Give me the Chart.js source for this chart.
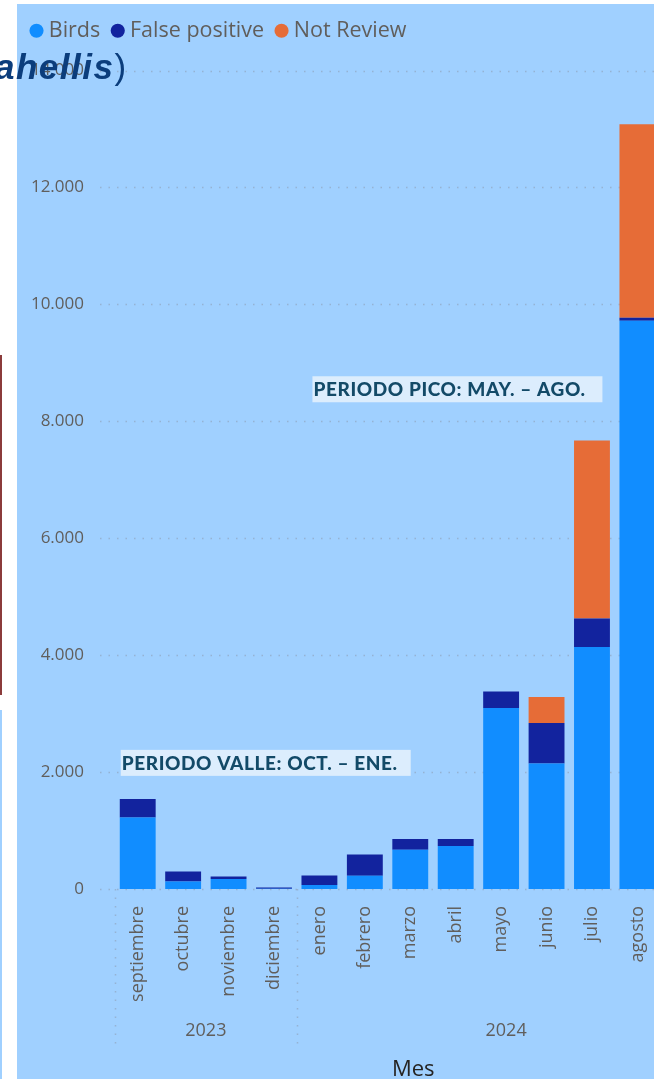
<!DOCTYPE html>
<html lang="es">
<head>
<meta charset="UTF-8">
<title>Detecciones por mes</title>
<script src="https://cdn.jsdelivr.net/npm/chart.js"></script>
<style>
  body { margin: 0; width: 654px; height: 1079px; overflow: hidden; background: #fff; position: relative; }
  #panel { position: absolute; left: 17px; top: 4px; width: 700px; height: 1075px; background: #a0d0ff; }
  #chart { position: absolute; left: 0; top: 0; }
  /* bits of neighbouring visuals that show at the left edge */
  .edge-line { position: absolute; left: 0; top: 355px; width: 2px; height: 340px; background: #8b3b3b; }
  .edge-strip { position: absolute; left: 0; top: 710px; width: 2px; height: 369px; background: #a0d0ff; }
  .cut-title { position: absolute; left: -5px; top: 47px; line-height: 35px; white-space: nowrap;
               font: italic bold 35px 'Liberation Sans', Arial, sans-serif; letter-spacing: 1.5px; color: #0b3d7c; }
  .cut-title span { font-style: normal; font-weight: normal; letter-spacing: 0; }
</style>
</head>
<body>
<div id="panel"><canvas id="chart" width="651" height="1075"></canvas></div>
<div class="edge-line"></div>
<div class="edge-strip"></div>
<div class="cut-title">ahellis<span>)</span></div>

<script>
// data
const months = ['septiembre', 'octubre', 'noviembre', 'diciembre', 'enero', 'febrero',
                'marzo', 'abril', 'mayo', 'junio', 'julio', 'agosto'];
const years = ['2023', '2024'];
const yearStart = [0, 4];          // index of first month of each year
const birds = [1225, 130, 170, 5, 70, 228, 672, 735, 3095, 2145, 4140, 9720];
const falsePositive = [315, 171, 44, 22, 162, 363, 183, 120, 285, 695, 485, 50];
const notReview = [0, 0, 0, 0, 0, 0, 0, 0, 0, 445, 3045, 3310];
const yTicks = [0, 2000, 4000, 6000, 8000, 10000, 12000, 14000];

const tickGray = '#605e5c';
const baseFont = "'Open Sans', 'Noto Sans', sans-serif";

function dotThousands(v) {
    return String(v).replace(/\B(?=(\d{3})+(?!\d))/g, '.');
}

// push the plot down under the legend
const legendGap = {
    id: 'legendGap',
    beforeInit(chart) {
        const fit = chart.legend.fit;
        chart.legend.fit = function () {
            fit.bind(chart.legend)();
            this.height += 19;
        };
    }
};

// dotted gridlines, year separators, year labels and axis title
const backdrop = {
    id: 'backdrop',
    beforeDatasetsDraw(chart) {
        const { ctx, chartArea, scales: { x, y } } = chart;
        const band = x.width / months.length;
        ctx.save();
        ctx.strokeStyle = 'rgba(140,155,175,0.55)';
        ctx.lineWidth = 1.5;
        ctx.setLineDash([1.5, 7]);
        yTicks.forEach(v => {
            const py = Math.round(y.getPixelForValue(v)) + 0.5;
            ctx.beginPath();
            ctx.moveTo(chartArea.left - 15, py);
            ctx.lineTo(chartArea.right, py);
            ctx.stroke();
        });
        yearStart.forEach(i => {
            const px = Math.round(x.getPixelForValue(i) - band / 2) + 0.5;
            ctx.beginPath();
            ctx.moveTo(px, chartArea.bottom);
            ctx.lineTo(px, chartArea.bottom + 160);
            ctx.stroke();
        });
        ctx.setLineDash([]);

        ctx.fillStyle = tickGray;
        ctx.font = '18px ' + baseFont;
        ctx.textAlign = 'center';
        ctx.textBaseline = 'middle';
        // 2023 sits over its four months, 2024 over the visible part of its group
        ctx.fillText(years[0], (x.getPixelForValue(1) + x.getPixelForValue(2)) / 2, chartArea.bottom + 142);
        ctx.fillText(years[1], x.getPixelForValue(8) + 5, chartArea.bottom + 142);

        ctx.fillStyle = '#252423';
        ctx.font = '22px ' + baseFont;
        ctx.fillText('Mes', x.getPixelForValue(6) + 3, chartArea.bottom + 181);
        ctx.restore();
    }
};

// the two text boxes
const notes = [
    { text: 'PERIODO VALLE: OCT. – ENE.', index: 0, dx: -17, value: 2380 },
    { text: 'PERIODO PICO: MAY. – AGO.', index: 4, dx: -7, value: 8770 }
];
const noteBoxes = {
    id: 'noteBoxes',
    afterDatasetsDraw(chart) {
        const { ctx, scales: { x, y } } = chart;
        ctx.save();
        notes.forEach(n => {
            const left = x.getPixelForValue(n.index) + n.dx;
            const top = y.getPixelForValue(n.value);
            ctx.fillStyle = '#dcedfd';
            ctx.fillRect(left, top, 290, 26);
            ctx.fillStyle = '#134a68';
            ctx.font = "900 19px Lato, 'Open Sans', sans-serif";
            ctx.letterSpacing = '0.6px';
            ctx.textAlign = 'left';
            ctx.textBaseline = 'middle';
            ctx.fillText(n.text, left + 1, top + 14);
        });
        ctx.restore();
    }
};

new Chart(document.getElementById('chart'), {
    type: 'bar',
    data: {
        labels: months,
        datasets: [
            { label: 'Birds', data: birds, backgroundColor: '#118dff' },
            { label: 'False positive', data: falsePositive, backgroundColor: '#12239e' },
            { label: 'Not Review', data: notReview, backgroundColor: '#e66c37' }
        ]
    },
    options: {
        responsive: false,
        animation: false,
        devicePixelRatio: 1,
        layout: { padding: { top: 0, left: 2, right: 0, bottom: 0 } },
        datasets: { bar: { barPercentage: 0.79, categoryPercentage: 1, borderWidth: 0 } },
        plugins: {
            tooltip: { enabled: false },
            legend: {
                position: 'top',
                align: 'start',
                labels: {
                    usePointStyle: true,
                    pointStyle: 'circle',
                    boxWidth: 3,
                    boxHeight: 10,
                    padding: 16,
                    color: tickGray,
                    font: { size: 21.5, family: baseFont }
                }
            }
        },
        scales: {
            x: {
                stacked: true,
                grid: { display: false },
                border: { display: false },
                ticks: {
                    autoSkip: false, minRotation: 90, maxRotation: 90, padding: 9,
                    color: tickGray, font: { size: 18, family: baseFont }
                },
                afterFit: s => { s.height = 190; }
            },
            y: {
                stacked: true,
                min: 0,
                max: 14000,
                grid: { display: false },
                border: { display: false },
                afterBuildTicks: s => { s.ticks = yTicks.map(v => ({ value: v })); },
                ticks: {
                    padding: 23, color: tickGray, font: { size: 17, family: baseFont },
                    callback: v => dotThousands(v)
                },
                afterFit: s => { s.width = 96; }
            }
        }
    },
    plugins: [legendGap, backdrop, noteBoxes]
});
</script>
</body>
</html>
